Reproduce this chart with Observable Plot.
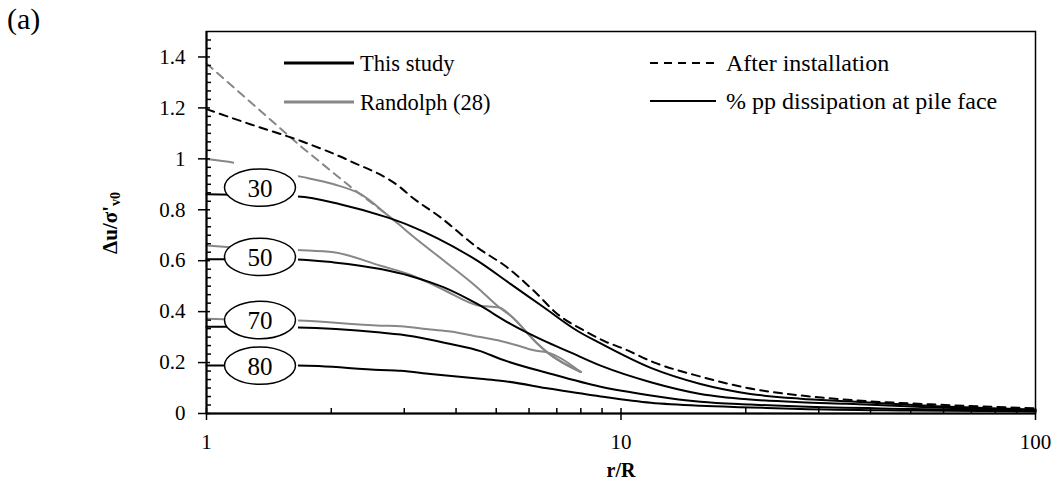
<!DOCTYPE html>
<html><head><meta charset="utf-8">
<script src="https://cdn.jsdelivr.net/npm/d3@7"></script>
<script src="https://cdn.jsdelivr.net/npm/@observablehq/plot@0.6"></script>
<style>
body{margin:0;background:#fff;}
#wrap{position:relative;width:1060px;height:495px;font-family:"Liberation Serif","Times New Roman",serif;}
#wrap svg{position:absolute;left:0;top:0;}
</style></head><body><div id="wrap"></div>
<script>
// ---- tick labels ----
const xTickValues = [1, 10, 100];
const xTickLabels = ["1", "10", "100"];
const yTickValues = [0, 0.2, 0.4, 0.6, 0.8, 1, 1.2, 1.4];
const yTickLabels = ["0", "0.2", "0.4", "0.6", "0.8", "1", "1.2", "1.4"];

// ---- This study: after installation (dashed black) ----
const rAfter = [1, 1.28, 1.69, 2.23, 2.94, 3.1, 3.67, 4.5, 5.31, 6.16, 7.02, 8.29, 9.09, 10.16, 12.0, 15.55, 20.2, 27.1, 35.1, 55.8, 100];
const uAfter = [1.195, 1.135, 1.07, 0.99, 0.887, 0.855, 0.77, 0.652, 0.574, 0.482, 0.391, 0.319, 0.285, 0.254, 0.201, 0.145, 0.1, 0.071, 0.054, 0.036, 0.02];

// ---- This study: % pp dissipation at pile face ----
const r30 = [1, 1.66, 2.1, 2.73, 3.1, 3.6, 4.5, 5.41, 6.51, 7.84, 8.93, 11.8, 15.55, 20.5, 27.1, 35.1, 55, 100];
const u30 = [0.861, 0.852, 0.822, 0.77, 0.737, 0.689, 0.6, 0.509, 0.417, 0.325, 0.275, 0.179, 0.116, 0.077, 0.058, 0.048, 0.03, 0.015];
const r50 = [1, 1.65, 2.03, 2.63, 3.1, 3.47, 3.74, 4.5, 5.41, 6.51, 7.55, 8.93, 11.8, 15.55, 20.5, 27.1, 35.1, 55, 100];
const u50 = [0.606, 0.605, 0.593, 0.567, 0.54, 0.515, 0.495, 0.43, 0.352, 0.286, 0.24, 0.188, 0.123, 0.077, 0.055, 0.044, 0.038, 0.025, 0.012];
const r70 = [1, 1.66, 2.63, 2.94, 3.47, 3.88, 4.58, 5.12, 6.76, 8.93, 11.8, 15.55, 20.5, 27.1, 50, 100];
const u70 = [0.341, 0.338, 0.318, 0.31, 0.29, 0.273, 0.245, 0.214, 0.156, 0.105, 0.071, 0.046, 0.035, 0.027, 0.018, 0.01];
const r80 = [1, 1.66, 2.63, 2.94, 3.47, 4.58, 5.12, 6.76, 8.93, 11.8, 15.55, 20.5, 27.1, 50, 100];
const u80 = [0.188, 0.188, 0.171, 0.168, 0.155, 0.136, 0.129, 0.097, 0.067, 0.042, 0.03, 0.024, 0.018, 0.012, 0.008];

// ---- Randolph (28) ----
const rRandAfter = [1, 1.164, 1.686, 2.226, 2.73];
const uRandAfter = [1.374, 1.28, 1.05, 0.89, 0.78];
const rRandTail = [2.73, 2.94, 3.1, 3.74, 4.5, 5.1, 5.41, 6.28, 6.64, 8];
const uRandTail = [0.78, 0.737, 0.705, 0.6, 0.495, 0.415, 0.385, 0.275, 0.24, 0.163];
const rRand30 = [1, 1.164, 1.655, 2.03, 2.35];
const uRand30 = [0.999, 0.985, 0.933, 0.9, 0.862];
const rRand50 = [1, 1.1, 1.655, 2.03, 2.63, 3.1, 3.47, 3.74, 4.5];
const uRand50 = [0.66, 0.655, 0.642, 0.633, 0.58, 0.545, 0.51, 0.485, 0.425];
const rRand70 = [1, 1.1, 1.66, 2.63, 2.94, 3.47, 3.88, 4.58, 5.12, 5.6, 6.16];
const uRand70 = [0.372, 0.37, 0.365, 0.345, 0.343, 0.33, 0.322, 0.3, 0.285, 0.268, 0.248];

// ---- curve labels ----
const labelText = ["30", "50", "70", "80"];
const labelU = [0.887, 0.615, 0.367, 0.188];
const labelR = [1.346, 1.346, 1.346, 1.346];

// ---- legend ----
const legendText = ["This study", "Randolph (28)", "After installation", "% pp dissipation at pile face"];

const rows = (rs, us) => rs.map((r, i) => ({r, u: us[i]}));
const after = rows(rAfter, uAfter);
const study = [rows(r30, u30), rows(r50, u50), rows(r70, u70), rows(r80, u80)];
const randAfter = rows(rRandAfter, uRandAfter);
const tail = rows(rRandTail, uRandTail);
const rand = [
  rows(rRand30, uRand30).concat(tail),
  rows(rRand50, uRand50).concat(tail.filter(d => d.r >= 5.1)),
  rows(rRand70, uRand70).concat(tail.filter(d => d.r >= 6.64))
];
const labels = labelText.map((t, i) => ({t, r: labelR[i], u: labelU[i]}));

const GREY = "#878787";
const FONT = '"Liberation Serif", "Times New Roman", serif';

const ellipseSym = {draw(ctx) {
  const rx = 35.5, ry = 18.7, k = 0.5523;
  ctx.moveTo(rx, 0);
  ctx.bezierCurveTo(rx, ry * k, rx * k, ry, 0, ry);
  ctx.bezierCurveTo(-rx * k, ry, -rx, ry * k, -rx, 0);
  ctx.bezierCurveTo(-rx, -ry * k, -rx * k, -ry, 0, -ry);
  ctx.bezierCurveTo(rx * k, -ry, rx, -ry * k, rx, 0);
  ctx.closePath();
}};
const boxSym = {draw(ctx) { ctx.rect(-26, -30, 64, 48); }};

const minorX = [2,3,4,5,6,7,8,9,20,30,40,50,60,70,80,90];
const minorY = d3.range(1, 45).map(i => i / 30).filter(v => Math.abs(v * 5 - Math.round(v * 5)) > 1e-6);

const lineMarks = [];
rand.forEach(d => lineMarks.push(Plot.line(d, {x: "r", y: "u", stroke: GREY, strokeWidth: 2, curve: "monotone-x"})));
lineMarks.push(Plot.line(randAfter, {x: "r", y: "u", stroke: GREY, strokeWidth: 2, strokeDasharray: "8,6"}));
study.forEach(d => lineMarks.push(Plot.line(d, {x: "r", y: "u", stroke: "black", strokeWidth: 2, curve: "monotone-x"})));
lineMarks.push(Plot.line(after, {x: "r", y: "u", stroke: "black", strokeWidth: 2, strokeDasharray: "8,6", curve: "monotone-x"}));

const chart = Plot.plot({
  width: 1060, height: 495,
  marginLeft: 206, marginRight: 25, marginTop: 31, marginBottom: 82,
  style: {fontFamily: FONT, background: "white", overflow: "visible"},
  x: {type: "log", domain: [1, 100], axis: null},
  y: {domain: [0, 1.5], axis: null},
  marks: [
    ...lineMarks,
    Plot.dot(labels, {x: "r", y: "u", symbol: boxSym, r: 10, fill: "white", stroke: "none"}),
    Plot.dot(labels, {x: "r", y: "u", symbol: ellipseSym, r: 10, fill: "white", stroke: "black", strokeWidth: 1.5}),
    Plot.text(labels, {x: "r", y: "u", text: "t", fontSize: 25, fill: "black", dy: 1}),
    Plot.frame({stroke: "black", strokeWidth: 1.5}),
    Plot.ruleY([0], {stroke: "black", strokeWidth: 2}),
    Plot.ruleX([1], {stroke: "black", strokeWidth: 2}),
    // x ticks
    Plot.ruleX(xTickValues, {x: d => d, y1: d => 0, y2: d => 0, insetTop: -5, insetBottom: -7, stroke: "black", strokeWidth: 1.5}),
    Plot.ruleX(minorX, {x: d => d, y1: d => 0, y2: d => 0, insetTop: -5, insetBottom: 0, stroke: "black", strokeWidth: 1.5}),
    // y ticks
    Plot.ruleY(yTickValues, {y: d => d, x1: d => 1, x2: d => 1, insetLeft: -8, insetRight: -4, stroke: "black", strokeWidth: 1.5}),
    Plot.ruleY(minorY, {y: d => d, x1: d => 1, x2: d => 1, insetLeft: 0, insetRight: -5, stroke: "black", strokeWidth: 1.5}),
    Plot.text(xTickValues, {x: d => d, y: d => 0, dy: 29, text: (d, i) => xTickLabels[i], fontSize: 21, fill: "black"}),
    Plot.text(yTickValues, {x: d => 1, y: d => d, dx: -21, textAnchor: "end", text: (d, i) => yTickLabels[i], fontSize: 21, fill: "black"}),
    Plot.text(["r/R"], {frameAnchor: "bottom", lineAnchor: "middle", dy: 57, text: d => d, fontSize: 20, fontWeight: "bold", fill: "black"})
  ]
});

const wrap = document.getElementById("wrap");
wrap.appendChild(chart);

// overlay: panel tag, y label, legend
const ov = d3.create("svg").attr("width", 1060).attr("height", 495)
  .style("pointer-events", "none").style("font-family", FONT);
ov.append("text").attr("x", 7).attr("y", 18).attr("dominant-baseline", "central")
  .attr("font-size", 30).text("(a)");
const yl = ov.append("text").attr("transform", "translate(110,223) rotate(-90)")
  .attr("text-anchor", "middle").attr("dominant-baseline", "central")
  .attr("font-size", 21).attr("font-weight", "bold");
yl.append("tspan").text("\u0394u/\u03c3'");
yl.append("tspan").attr("font-size", 14).attr("dy", "0.35em").text("v0");

const leg = [
  {x1: 284, x2: 354, y: 63, stroke: "black", w: 3.2, dash: null, tx: 360, fs: 22.5},
  {x1: 284, x2: 354, y: 102, stroke: GREY, w: 3.2, dash: null, tx: 360, fs: 22.5},
  {x1: 650, x2: 716, y: 63, stroke: "black", w: 2.2, dash: "8,6", tx: 726, fs: 24},
  {x1: 650, x2: 716, y: 101, stroke: "black", w: 1.8, dash: null, tx: 726, fs: 24}
];
leg.forEach((l, i) => {
  ov.append("line").attr("x1", l.x1).attr("x2", l.x2).attr("y1", l.y).attr("y2", l.y)
    .attr("stroke", l.stroke).attr("stroke-width", l.w).attr("stroke-dasharray", l.dash);
  ov.append("text").attr("x", l.tx).attr("y", l.y).attr("dominant-baseline", "central")
    .attr("font-size", l.fs).text(legendText[i]);
});
wrap.appendChild(ov.node());
</script></body></html>
